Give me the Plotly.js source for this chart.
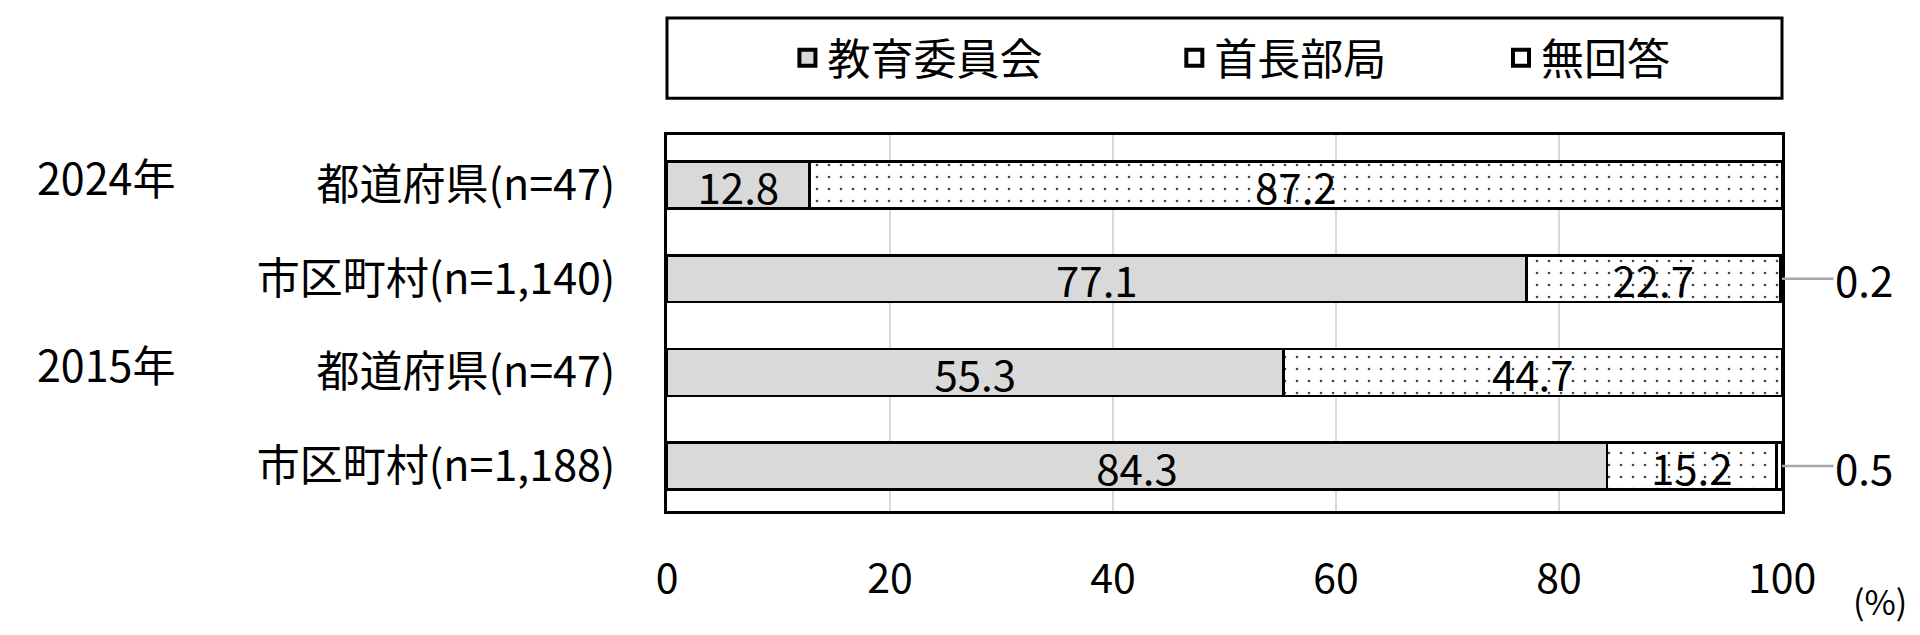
<!DOCTYPE html>
<html>
<head>
<meta charset="utf-8">
<script src="https://cdn.plot.ly/plotly-3.0.1.min.js"></script>
<style>
  html, body { margin: 0; padding: 0; background: #fff; }
  #chart { width: 1920px; height: 635px; }
</style>
</head>
<body>
<div id="chart"></div>
<script>
// rows, top to bottom
const rowKeys = ["2024-pref", "2024-muni", "2015-pref", "2015-muni"];
const rowLabels = ["都道府県(n=47)", "市区町村(n=1,140)", "都道府県(n=47)", "市区町村(n=1,188)"];
const yearLabels = ["2024年", "2015年"];
const yearRows = ["2024-pref", "2015-pref"];

const seriesNames = ["教育委員会", "首長部局", "無回答"];
const boardOfEducation = [12.8, 77.1, 55.3, 84.3];
const mayorOffice = [87.2, 22.7, 44.7, 15.2];
const noAnswer = [0, 0.2, 0, 0.5];

const xTicks = [0, 20, 40, 60, 80, 100];

const FONT = "Noto Sans CJK JP, Noto Sans, sans-serif";
const seriesFill = ["#d9d9d9", "#fff", "#fff"];
const outline = { color: "#000", width: 2.5 };

function barTrace(name, values, opts) {
  return Object.assign({
    type: "bar",
    orientation: "h",
    name: name,
    x: values,
    y: rowKeys,
    texttemplate: "%{x:.1f}",
    textposition: "inside",
    insidetextanchor: "middle",
    textangle: 0,
    constraintext: "none",
    textfont: { family: FONT, size: 42, color: "#000" },
    hoverinfo: "skip",
    showlegend: false,
  }, opts);
}

// legend keys: bar icons are fixed tiny, so use square markers instead
function legendKey(i, legendId) {
  return {
    type: "scatter",
    mode: "markers",
    name: seriesNames[i],
    x: [null],
    y: [null],
    marker: { symbol: "square", size: 16, color: seriesFill[i], line: { color: "#000", width: 4 } },
    legend: legendId,
    hoverinfo: "skip",
  };
}

const traces = [
  barTrace(seriesNames[0], boardOfEducation, {
    marker: { color: seriesFill[0], line: outline },
  }),
  barTrace(seriesNames[1], mayorOffice, {
    marker: {
      color: seriesFill[1],
      line: outline,
      pattern: { shape: ".", fgcolor: "#444", bgcolor: "#fff", size: 12, solidity: 0.037 },
    },
  }),
  barTrace(seriesNames[2], noAnswer, {
    marker: { color: seriesFill[2], line: outline },
    textposition: "none",
    texttemplate: "",
  }),
  legendKey(0, "legend"),
  legendKey(1, "legend2"),
  legendKey(2, "legend3"),
];

const annotations = [];

yearLabels.forEach((label, i) => {
  annotations.push({
    xref: "paper", yref: "y",
    x: -0.567, y: yearRows[i],
    xanchor: "left", yanchor: "middle",
    yshift: 9,
    text: label,
    showarrow: false,
    font: { family: FONT, size: 43, color: "#000" },
  });
});

// labels for the small "no answer" slices, tied to the end of each stack
rowKeys.forEach((key, i) => {
  if (noAnswer[i] <= 0) return;
  const total = boardOfEducation[i] + mayorOffice[i] + noAnswer[i];
  annotations.push({
    xref: "x", yref: "y",
    x: total, y: key,
    ax: 82, ay: 0,
    showarrow: true,
    arrowhead: 0,
    arrowwidth: 2.5,
    arrowcolor: "#a6a6a6",
    standoff: 0,
    text: noAnswer[i].toFixed(1),
    font: { family: FONT, size: 42, color: "#000" },
  });
});

annotations.push({
  xref: "paper", yref: "paper",
  x: 1.088, y: -0.237,
  xanchor: "center", yanchor: "middle",
  text: "(%)",
  showarrow: false,
  font: { family: FONT, size: 34, color: "#000" },
});

function legendAt(x) {
  return {
    orientation: "h",
    x: x, y: 1.205,
    xanchor: "left", yanchor: "middle",
    bgcolor: "rgba(0,0,0,0)",
    borderwidth: 0,
    font: { family: FONT, size: 43, color: "#000" },
  };
}

const layout = {
  width: 1920,
  height: 635,
  margin: { l: 667, r: 138, t: 135, b: 124 },
  paper_bgcolor: "#fff",
  plot_bgcolor: "#fff",
  font: { family: FONT, size: 42, color: "#000" },
  barmode: "stack",
  bargap: 0.5,
  showlegend: true,
  legend: legendAt(0.108),
  legend2: legendAt(0.455),
  legend3: legendAt(0.748),
  xaxis: {
    range: [0, 100],
    tickvals: xTicks,
    ticks: "",
    ticklabelstandoff: 30,
    showgrid: true,
    gridcolor: "#d9d9d9",
    gridwidth: 2,
    zeroline: false,
    showline: true,
    mirror: true,
    linecolor: "#000",
    linewidth: 3,
    tickfont: { family: FONT, size: 41, color: "#000" },
    fixedrange: true,
  },
  yaxis: {
    type: "category",
    categoryorder: "array",
    categoryarray: rowKeys,
    tickvals: rowKeys,
    ticktext: rowLabels,
    range: [3.48, -0.535],
    ticks: "",
    ticklabelstandoff: 40,
    showgrid: false,
    zeroline: false,
    showline: true,
    mirror: true,
    linecolor: "#000",
    linewidth: 3,
    tickfont: { family: FONT, size: 43, color: "#000" },
    fixedrange: true,
  },
  shapes: [
    {
      type: "rect",
      xref: "paper", yref: "paper",
      x0: 0, x1: 1, y0: 1.098, y1: 1.311,
      line: { color: "#000", width: 3 },
      fillcolor: "rgba(0,0,0,0)",
      layer: "below",
    },
  ],
  annotations: annotations,
};

Plotly.newPlot("chart", traces, layout, { displayModeBar: false, staticPlot: true });
</script>
</body>
</html>
